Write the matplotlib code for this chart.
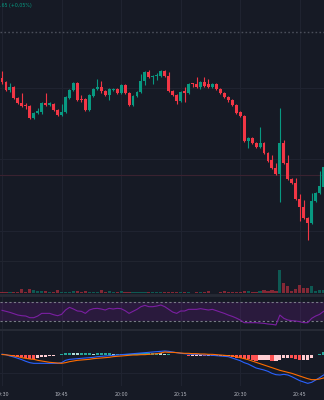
import matplotlib
matplotlib.use("Agg")
import matplotlib.pyplot as plt
import numpy as np

# ---------------- data ----------------
time_labels = ["19:30", "19:45", "20:00", "20:15", "20:30", "20:45"]
label_idx = [0, 15, 30, 45, 60, 75]

open_ = [222, 218, 210, 213, 202, 197, 194.8, 194, 182, 187,
         188, 197, 195, 196, 190, 185, 188, 202, 210, 217,
         201, 201, 190, 204, 211, 213, 209, 205, 210, 211,
         207, 215, 207, 195, 204, 208, 219, 228, 223, 224,
         224, 229, 224, 209, 205, 199, 209, 207, 216.2, 216,
         213, 218, 216, 213, 216, 211, 207, 203, 200, 195,
         188, 184, 159, 162, 157, 153, 157, 147, 140, 132,
         126, 157, 137, 121, 117, 101, 93, 82, 77, 99,
         107, 113]
high = [229, 219, 217, 214.5, 203, 207, 197, 195, 188, 192,
        198, 207, 198, 197, 191, 196, 204, 211, 218, 218,
        205, 202, 206, 212, 221, 219, 210, 212, 212, 212,
        216, 216, 208, 205, 209, 226, 229, 230, 225, 227,
        230, 230, 228, 210, 206, 209, 213, 217, 217, 223,
        219, 223, 221, 217, 217, 212, 208, 204, 201, 196,
        189, 185, 163, 163, 158, 173, 158, 148, 145, 137,
        192, 160, 145, 122, 122, 106, 100, 83, 107, 108,
        129, 134]
low = [216, 209, 208, 201, 196, 193, 191, 181, 181, 186,
       186, 194, 194, 189, 184, 184, 187, 201, 209, 199,
       198, 189, 189, 203, 210, 207, 204, 200, 209, 206,
       206, 206, 194, 194, 203, 207, 215, 222, 216, 220,
       223, 223, 208, 204, 196, 198, 198, 206, 213.5, 212,
       211, 213, 212, 212, 210, 206, 202, 198, 194, 186,
       183, 158, 152, 156, 152, 152, 146, 138, 131, 125,
       98, 136, 120, 116, 100, 79, 81, 60, 76, 98,
       106, 112]
close = [218, 210, 213, 202, 197, 194, 194.3, 182, 187, 189,
         197, 195, 197, 190, 185, 188, 203, 210, 217, 200,
         200.5, 190, 205, 211, 213, 209, 205, 211, 211, 207,
         215, 207, 195, 204, 208, 219, 228, 223, 224, 224.5,
         229, 224, 209, 205, 199, 208, 207, 216, 215.8, 213,
         218, 214, 213, 216, 211, 207, 203, 200, 195, 187,
         184, 159, 162, 157, 153, 157, 147, 139, 132, 126,
         157, 137, 121, 117, 101, 93, 82, 77, 99, 107,
         114, 133]
volume = [5, 3, 4, 5, 3, 12, 5, 13, 10, 6,
          6, 6, 3, 3, 9, 5, 4, 4, 7, 7,
          3, 6, 3, 4, 5, 9, 3, 7, 5, 3,
          7, 4, 4, 4, 4, 4, 4, 4, 3, 3,
          3, 4, 3, 3, 3, 3, 4, 4, 2, 4,
          4, 3, 6, 2, 2, 3, 7, 4, 4, 4,
          4, 7, 7, 4, 4, 7, 10, 7, 10, 7,
          67, 30, 20, 8, 13, 23, 15, 15, 22, 6,
          9, 9]
rsi = [51.8, 49.7, 47.5, 44.7, 41.9, 40.5, 39.8, 36.3, 36.3, 39.8,
       45.4, 45.4, 45.4, 42.6, 40.5, 43.3, 52.5, 58.1, 54.6, 50.4,
       49.7, 45.4, 52.5, 55.3, 56.0, 54.6, 52.5, 56.0, 54.6, 56.0,
       55.3, 51.1, 45.4, 49.7, 53.9, 59.5, 62.3, 59.5, 59.5, 60.9,
       63.0, 59.5, 53.9, 48.2, 45.4, 50.4, 50.4, 53.9, 53.9, 53.9,
       55.3, 53.9, 52.5, 53.9, 51.1, 48.2, 45.4, 41.9, 39.1, 35.6,
       31.4, 25.8, 25.8, 25.8, 25.8, 25.1, 24.4, 23.0, 22.3, 20.9,
       41.9, 34.9, 31.4, 30.0, 29.3, 27.9, 25.8, 25.8, 34.9, 39.8,
       43.3, 49.7]
macd = [2.5, 1, -3, -6, -10, -14, -19, -23, -25, -25,
        -25, -25, -25, -25, -25, -23, -16, -13, -12, -11,
        -10, -9, -8, -7, -5, -4, -3, -2, -1, 0,
        1, 2, 3, 4, 5, 6, 7, 8, 9, 10,
        11, 12, 11, 9, 7, 5, 4, 3, 2, 2,
        1, 0, 0, -1, -2, -3, -4, -5, -9, -13,
        -17, -23, -27, -33, -39, -42, -45, -49, -55, -59,
        -60, -58, -60, -65, -71, -77, -81, -85, -82, -75,
        -68, -60]
signal = [1.5, 0.5, -1, -3, -5, -8, -10, -12, -13, -16,
          -18, -20, -22, -23, -24, -25, -23, -20, -18, -16,
          -15, -14, -13, -11, -10, -9, -8, -7, -5, -4,
          -3, -2, -1, 0, 0, 1, 1, 2, 3, 4,
          6, 9, 8, 8, 7, 6, 5, 5, 4, 4,
          3, 3, 2, 2, 1, 0, -1, -2, -3, -5,
          -8, -11, -14, -18, -22, -26, -30, -34, -38, -42,
          -46, -49, -52, -55, -59, -63, -67, -71, -74, -74,
          -72, -69]

# ---------------- style ----------------
BG = "#161a25"
GRID = "#1f2330"
UP = "#089981"
DN = "#f23645"
W, H = 324, 400

fig = plt.figure(figsize=(W / 100, H / 100), dpi=100, facecolor=BG)

def px_axes(top, bottom):
    return fig.add_axes([0, 1 - bottom / H, 1, (bottom - top) / H], facecolor=BG)

x = np.arange(len(close))
xlim = (-0.504, 81.11)
tick_x = label_idx

def base(ax):
    ax.set_xlim(*xlim)
    for s in ax.spines.values():
        s.set_visible(False)
    ax.set_xticks([])
    ax.set_yticks([])
    for t in tick_x:
        ax.axvline(t, color=GRID, lw=0.8, zorder=0)

# main price pane
ax = px_axes(0, 261)
base(ax)
ax.set_ylim(39, 300)
for gy in [212, 141, 69]:
    ax.axhline(gy, color=GRID, lw=0.8, zorder=0)
ax.axhline(268, color="#4a4e5a", lw=1.0, ls=(0, (1.2, 1.6)), zorder=1)
ax.axhline(125, color="#3a2230", lw=0.8, zorder=1)
o = np.array(open_); c = np.array(close)
cols = [UP if cc >= oo else DN for oo, cc in zip(o, c)]
ax.vlines(x, low, high, colors=cols, lw=0.8, zorder=2)
bottoms = np.minimum(o, c)
heights = np.maximum(np.abs(c - o), 0.8)
ax.bar(x, heights, bottom=bottoms, width=0.74, color=cols, linewidth=0, zorder=3)
fig.text(0.0, 1 - 5 / H, ".65 (+0,05%)", color=UP, fontsize=3.4,
         ha="left", va="center")

# volume pane
axv = px_axes(261, 293.3)
base(axv)
axv.set_ylim(0, 94)
axv.bar(x, volume, width=0.8, color=cols, alpha=0.5, linewidth=0, zorder=2)
fig.add_artist(plt.Line2D([0, 1], [1 - 261 / H] * 2, color="#20242f", lw=0.8))
fig.add_artist(plt.Line2D([0, 1], [1 - 294.5 / H] * 2, color="#262a35", lw=2.0))

# RSI pane
axr = px_axes(296, 329)
base(axr)
axr.set_ylim(12.5, 82)
axr.axhspan(30, 70, color="#7b1fa2", alpha=0.2, lw=0, zorder=1)
axr.axhline(70, color="#787b86", lw=0.8, ls=(0, (2, 2)), zorder=2)
axr.axhline(30, color="#787b86", lw=0.8, ls=(0, (2, 2)), zorder=2)
axr.plot(x, rsi, color="#7b1fa2", lw=0.8, zorder=3)
fig.add_artist(plt.Line2D([0, 1], [1 - 329.5 / H] * 2, color="#262a35", lw=1.5))

# MACD pane
axm = px_axes(330, 386)
base(axm)
axm.set_ylim(-93, 75)
axm.axhline(-54, color=GRID, lw=0.8, zorder=0)
m = np.array(macd, dtype=float); sg = np.array(signal, dtype=float)
hist = m - sg
hcols = []
for i, h in enumerate(hist):
    prev = hist[i - 1] if i > 0 else 0
    if h >= 0:
        hcols.append("#26a69a" if h >= prev else "#b2dfdb")
    else:
        hcols.append("#ff5252" if h < prev else "#ffcdd2")
axm.bar(x, hist, width=0.8, color=hcols, linewidth=0, zorder=2)
axm.plot(x, m, color="#2962ff", lw=0.8, zorder=3)
axm.plot(x, sg, color="#ff6d00", lw=0.8, zorder=3)

for t, lab in zip(tick_x, time_labels):
    xf = (t - xlim[0]) / (xlim[1] - xlim[0])
    fig.text(xf, 1 - 395 / H, lab, color="#b2b5be", fontsize=3.4,
             ha="center", va="center")

fig.savefig("out.png", dpi=100, facecolor=BG)
